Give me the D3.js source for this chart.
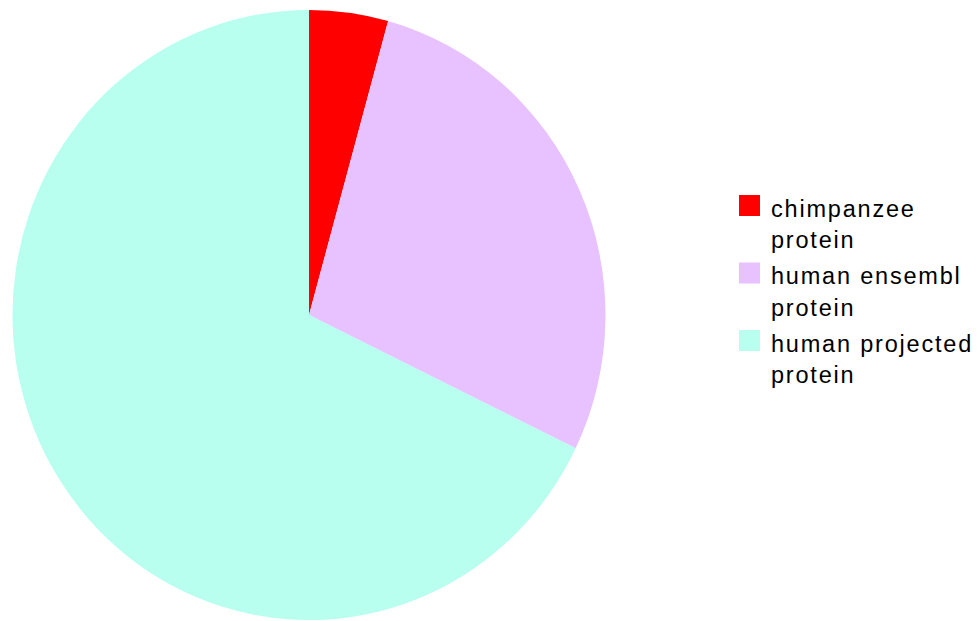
<!DOCTYPE html>
<html>
<head>
<meta charset="utf-8">
<script src="https://cdn.jsdelivr.net/npm/d3@7"></script>
<style>
  body { margin: 0; background: #fff; }
</style>
</head>
<body>
<script>
const categories = ['chimpanzee protein', 'human ensembl protein', 'human projected protein'];
const legendLines = [['chimpanzee', 'protein'], ['human ensembl', 'protein'], ['human projected', 'protein']];
const values = [4.3, 27.9, 67.8];
const colors = ['#ff0000', '#e8c2ff', '#b8fff0'];

const width = 978, height = 621;
const cx = 309, cy = 315, radius = 296.5, yStretch = 1.029;

const svg = d3.select('body').append('svg')
    .attr('width', width)
    .attr('height', height)
    .style('font-family', '"Liberation Sans", Arial, sans-serif');

const pie = d3.pie().sort(null).value(d => d);
const arc = d3.arc().innerRadius(0).outerRadius(radius);

const color = d3.scaleOrdinal().domain(categories).range(colors);

// pie is slightly taller than wide in the original
svg.append('g')
    .attr('transform', `translate(${cx},${cy}) scale(1,${yStretch})`)
    .selectAll('path')
    .data(pie(values))
    .enter().append('path')
    .attr('d', arc)
    .attr('fill', (d, i) => color(categories[i]));

const legend = svg.append('g')
    .attr('transform', 'translate(739,195)')
    .selectAll('g')
    .data(categories)
    .enter().append('g')
    .attr('transform', (d, i) => `translate(0,${i * 67.5})`);

legend.append('rect')
    .attr('width', 21)
    .attr('height', 21)
    .attr('fill', d => color(d));

legend.each(function (d, i) {
    const t = d3.select(this).append('text')
        .attr('x', 32)
        .attr('font-size', 23.5)
        .attr('letter-spacing', 1.8)
        .attr('fill', '#000');
    legendLines[i].forEach((line, j) => {
        t.append('tspan').attr('x', 32).attr('y', 21.5 + j * 31.6).text(line);
    });
});
</script>
</body>
</html>
